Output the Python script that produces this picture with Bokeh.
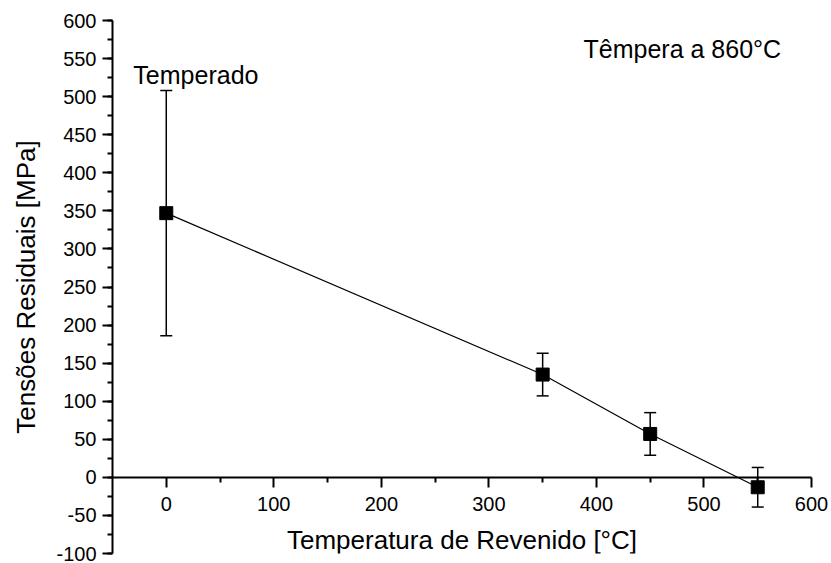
from bokeh.plotting import figure
from bokeh.models import (Range1d, LinearAxis, FixedTicker, ColumnDataSource,
                          Whisker, TeeHead, Label)
from bokeh.embed import file_html
from bokeh.resources import INLINE

# data
temperatures = [0, 350, 450, 550]
stresses = [347, 135, 57, -13]
errors = [161, 28, 28, 26]

x_ticks = [0, 100, 200, 300, 400, 500, 600]
x_minor = [50, 150, 250, 350, 450, 550]
y_ticks = list(range(-100, 601, 50))
y_minor = list(range(-100, 601, 25))

FONT = "Liberation Sans"

src = ColumnDataSource(dict(
    x=temperatures, y=stresses,
    lo=[s - e for s, e in zip(stresses, errors)],
    hi=[s + e for s, e in zip(stresses, errors)],
))

p = figure(width=831, height=563, output_backend="svg", toolbar_location=None,
           x_range=Range1d(-50, 618.6), y_range=Range1d(-100, 600),
           x_axis_location=None, y_axis_location=None,
           min_border_left=112, min_border_right=0, min_border_top=20, min_border_bottom=10)
p.outline_line_color = None
p.xgrid.visible = False
p.ygrid.visible = False
p.background_fill_color = "white"
p.border_fill_color = "white"

def style_axis(ax, label_size, title_size):
    ax.axis_line_width = 2
    ax.axis_line_color = "black"
    ax.major_tick_line_width = 2
    ax.minor_tick_line_width = 2
    ax.major_tick_out = 10
    ax.major_tick_in = 0
    ax.minor_tick_out = 5
    ax.minor_tick_in = 0
    ax.major_label_text_font = FONT
    ax.major_label_text_font_size = label_size
    ax.major_label_text_color = "black"
    ax.axis_label_text_font = FONT
    ax.axis_label_text_font_size = title_size
    ax.axis_label_text_font_style = "normal"
    ax.axis_label_text_color = "black"

yax = LinearAxis(ticker=FixedTicker(ticks=y_ticks, minor_ticks=y_minor),
                 axis_label="Tensões Residuais [MPa]")
style_axis(yax, "20px", "26px")
yax.major_label_standoff = 6
yax.axis_label_standoff = 12
yax.major_label_overrides = {t: str(t) for t in y_ticks}
p.add_layout(yax, "left")

xax = LinearAxis(ticker=FixedTicker(ticks=x_ticks, minor_ticks=x_minor),
                 axis_label="Temperatura de Revenido [°C]", fixed_location=0,
                 bounds=(-50, 600))
style_axis(xax, "20px", "26px")
xax.major_label_standoff = 10
xax.axis_label_standoff = 10
p.add_layout(xax, "below")

p.line(x="x", y="y", source=src, line_color="black", line_width=1.2)

w = Whisker(base="x", lower="lo", upper="hi", source=src,
            line_color="black", line_width=1.5,
            upper_head=TeeHead(size=12, line_color="black", line_width=1.5),
            lower_head=TeeHead(size=12, line_color="black", line_width=1.5))
p.add_layout(w)

p.scatter(x="x", y="y", source=src, marker="square", size=13,
          fill_color="black", line_color="black")

p.add_layout(Label(x=-30.6, y=528, text="Temperado", text_font=FONT,
                   text_font_size="25px", text_color="black", text_baseline="alphabetic"))
p.add_layout(Label(x=388, y=563, text="Têmpera a 860°C", text_font=FONT,
                   text_font_size="25px", text_color="black", text_baseline="alphabetic"))

open("out.html", "w").write(file_html(p, INLINE))
